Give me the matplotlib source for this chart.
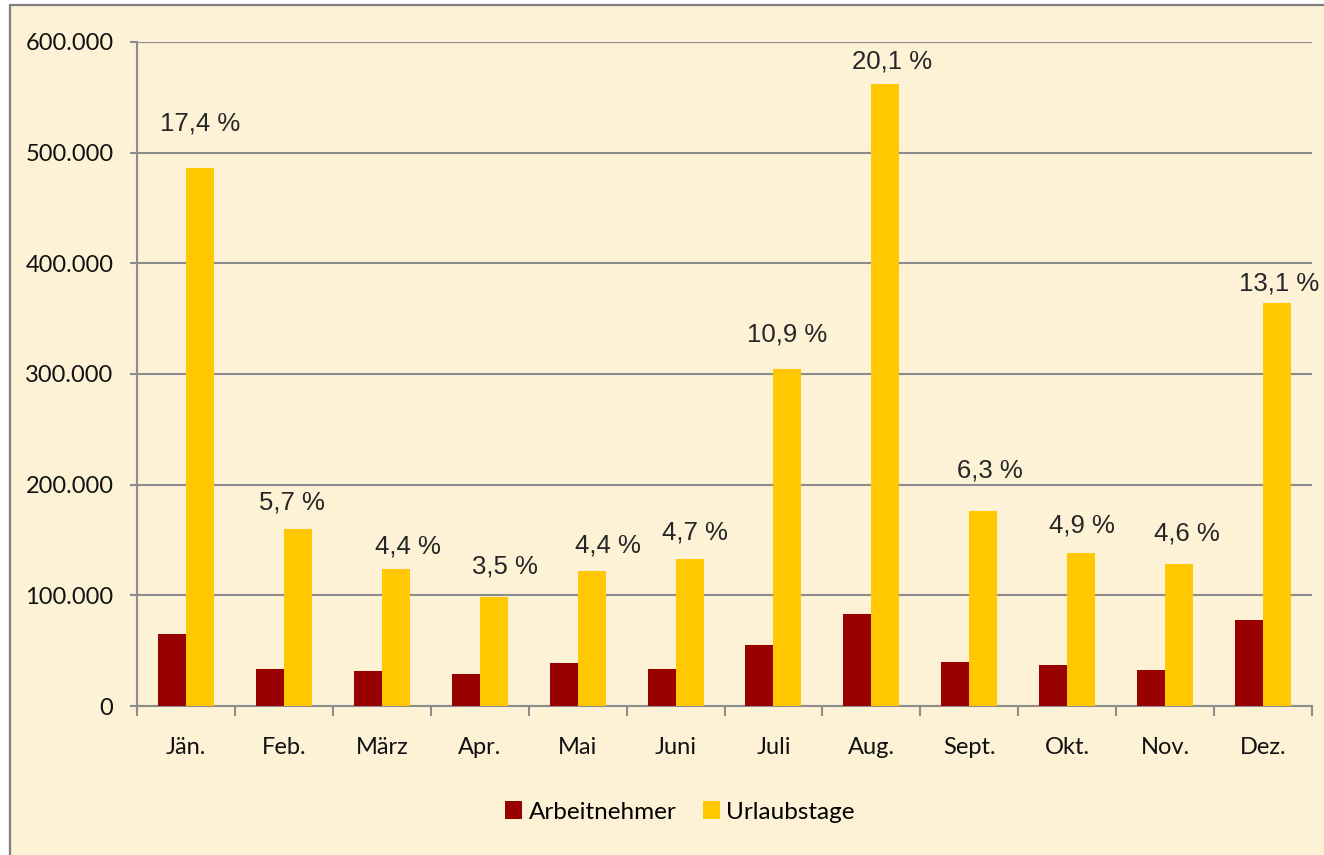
import matplotlib
matplotlib.use("Agg")
import matplotlib.pyplot as plt
import numpy as np
from matplotlib.patches import Rectangle, Patch
from matplotlib.ticker import FuncFormatter, FixedLocator

# ---- data ----
months = ["Jän.", "Feb.", "März", "Apr.", "Mai", "Juni", "Juli", "Aug.", "Sept.", "Okt.", "Nov.", "Dez."]
arbeitnehmer = [65000, 33400, 31600, 29000, 38900, 33400, 55500, 83100, 39800, 37000, 32700, 77500]
urlaubstage = [486000, 160000, 123800, 98500, 122000, 132800, 304500, 562000, 176200, 138000, 128300, 364500]
percent_labels = ["17,4 %", "5,7 %", "4,4 %", "3,5 %", "4,4 %", "4,7 %", "10,9 %", "20,1 %", "6,3 %", "4,9 %", "4,6 %", "13,1 %"]
y_ticks = [0, 100000, 200000, 300000, 400000, 500000, 600000]

# ---- layout (label placement offsets, pixels) ----
lbl_dx_px = [0, -6, 12, 11, 16, 5, 0, 7, 7, 1, 8, 2]
lbl_dy_px = [38, 19, 15, 23, 18, 20, 28, 16, 34, 21, 24, 12]

W, H = 1324, 855
DPI = 100
BG = "#FDF2D6"
GRID = "#8C8C8C"
RED = "#990000"
GOLD = "#FFC800"

fig = plt.figure(figsize=(W / DPI, H / DPI), dpi=DPI, facecolor="white")
# chart area background with border
bgrect = Rectangle((10 / W, -0.05), 1.1, 1 - 5 / H + 0.05, transform=fig.transFigure,
                   facecolor=BG, edgecolor="#7F7F7F", linewidth=1.6, zorder=-10)
fig.patches.append(bgrect)

ax = fig.add_axes([137 / W, 1 - 706 / H, (1312 - 137) / W, (706 - 42) / H])
ax.set_facecolor("none")
ax.set_zorder(1)

x = np.arange(len(months))
bw = 0.286
ax.bar(x - bw / 2, arbeitnehmer, width=bw, color=RED, zorder=3, label="Arbeitnehmer")
ax.bar(x + bw / 2, urlaubstage, width=bw, color=GOLD, zorder=3, label="Urlaubstage")

ax.set_xlim(-0.5, len(months) - 0.5)
ax.set_ylim(0, 600000)

# gridlines & spines
ax.set_yticks(y_ticks)
ax.yaxis.set_major_formatter(FuncFormatter(lambda v, p: f"{int(v):,}".replace(",", ".")))
ax.grid(axis="y", color=GRID, linewidth=1.5, zorder=1)
ax.set_axisbelow(True)
for s in ["top", "right"]:
    ax.spines[s].set_visible(False)
for s in ["left", "bottom"]:
    ax.spines[s].set_color(GRID)
    ax.spines[s].set_linewidth(1.5)

ax.set_xticks(x)
ax.set_xticklabels(months)
ax.xaxis.set_minor_locator(FixedLocator(np.arange(-0.5, len(months), 1.0)))
ax.tick_params(axis="x", which="major", length=0, pad=22)
ax.tick_params(axis="x", which="minor", length=7.5, width=1.5, color=GRID)
ax.tick_params(axis="y", length=5, width=1.5, color=GRID, pad=12)

tick_font = "Lato"
for lab in ax.get_xticklabels() + ax.get_yticklabels():
    lab.set_fontfamily(tick_font)
    lab.set_fontsize(17)
    lab.set_color("#111111")

# percent labels
for i, (v, t) in enumerate(zip(urlaubstage, percent_labels)):
    ax.annotate(t, xy=(x[i] + bw / 2, v), xytext=(lbl_dx_px[i] * 0.72, lbl_dy_px[i] * 0.72),
                textcoords="offset points", ha="center", va="baseline",
                fontsize=18.5, family="Liberation Sans", color="#262626", zorder=4)

# legend
handles = [Patch(facecolor=RED), Patch(facecolor=GOLD)]
fig.legend(handles, ["Arbeitnehmer", "Urlaubstage"], loc="center", bbox_to_anchor=(680 / W, 1 - 812 / H),
           ncol=2, frameon=False, prop={"family": tick_font, "size": 17.5},
           handlelength=0.7, handleheight=0.7, handletextpad=0.25, columnspacing=1.1)

fig.savefig("out.png", dpi=DPI, facecolor=fig.get_facecolor())
